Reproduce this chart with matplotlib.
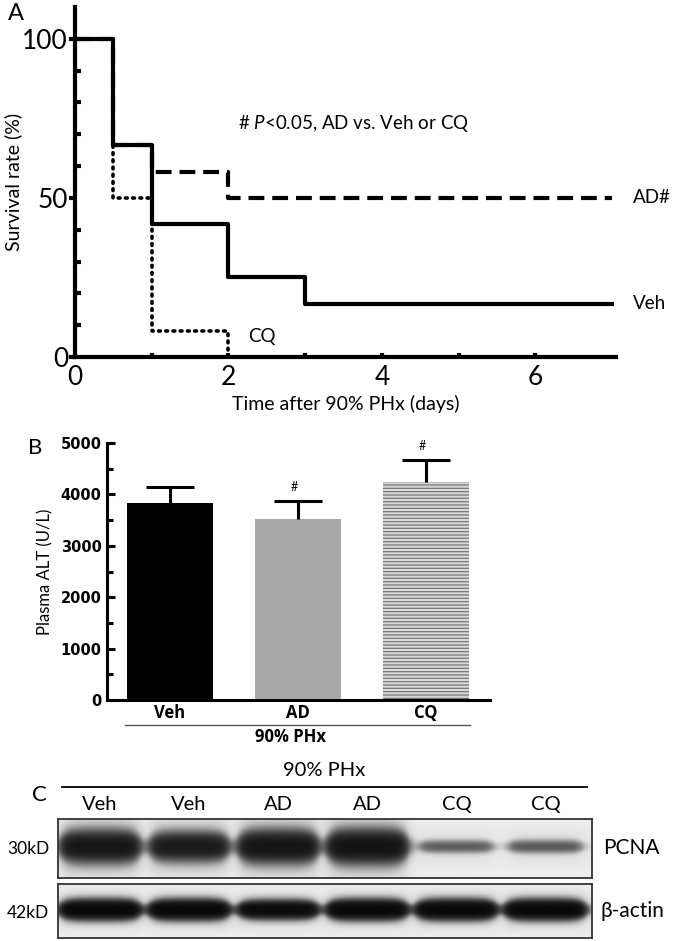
import numpy as np
import matplotlib
matplotlib.use('Agg')
import matplotlib.pyplot as plt
from matplotlib.ticker import MultipleLocator, FixedLocator

plt.rcParams['font.family'] = ['Lato', 'DejaVu Sans']
plt.rcParams['mathtext.fontset'] = 'custom'
plt.rcParams['mathtext.rm'] = 'Lato'
plt.rcParams['mathtext.it'] = 'Lato:italic'
plt.rcParams['hatch.linewidth'] = 0.9

# ---- Panel A: survival after 90% PHx ----
veh_days = [0, 0.5, 1, 2, 3, 7]
veh_surv = [100, 66.7, 41.7, 25.0, 16.7, 16.7]
ad_days = [0, 0.5, 1, 2, 7]
ad_surv = [100, 66.7, 58.3, 50.0, 50.0]
cq_days = [0, 0.5, 1, 2]
cq_surv = [100, 50.0, 8.3, 0.0]

# ---- Panel B: plasma ALT ----
groups = ['Veh', 'AD', 'CQ']
alt_mean = [3840, 3530, 4250]
alt_sem = [310, 350, 420]
alt_sig = ['', '#', '#']

# ---- Panel C: western blot ----
lanes = ['Veh', 'Veh', 'AD', 'AD', 'CQ', 'CQ']
pcna_level = [0.95, 0.88, 0.97, 1.0, 0.38, 0.40]
actin_level = [1.0, 1.0, 0.93, 1.0, 1.0, 1.0]

W, H = 675, 941
fig = plt.figure(figsize=(W / 100, H / 100), dpi=100)


def rect(x0, y0, x1, y1):
    # pixel box (top-left origin) -> figure fraction rect
    return [x0 / W, 1 - y1 / H, (x1 - x0) / W, (y1 - y0) / H]


# ================= A =================
ax = fig.add_axes(rect(75, 7, 616, 357))
lw = 3.0
ax.step(cq_days, cq_surv, where='post', color='black', lw=2.6,
        dashes=(0.5, 1.5), dash_capstyle='round')
ax.step(ad_days, ad_surv, where='post', color='black', lw=lw, dashes=(3.8, 1.9))
ax.step(veh_days, veh_surv, where='post', color='black', lw=lw)
ax.set_xlim(0, 7.05)
ax.set_ylim(0, 110)
for s in ['top', 'right']:
    ax.spines[s].set_visible(False)
for s in ['left', 'bottom']:
    ax.spines[s].set_linewidth(3.0)
ax.yaxis.set_major_locator(FixedLocator([0, 50, 100]))
ax.yaxis.set_minor_locator(FixedLocator([10, 20, 30, 40, 60, 70, 80, 90]))
ax.xaxis.set_major_locator(FixedLocator([0, 2, 4, 6]))
ax.xaxis.set_minor_locator(FixedLocator([1, 3, 5]))
ax.tick_params(axis='y', which='major', direction='out', length=4, width=3,
               labelsize=19, pad=1)
ax.tick_params(axis='y', which='minor', direction='in', length=4, width=3)
ax.tick_params(axis='x', which='both', direction='in', length=3, width=3,
               labelsize=19, pad=6)
ax.set_ylabel('Survival rate (%)', fontsize=14, labelpad=0)
ax.set_xlabel('Time after 90% PHx (days)', fontsize=14, labelpad=3)
ax.text(3.63, 73.5, '# $P$<0.05, AD vs. Veh or CQ', fontsize=13.5,
        ha='center', va='center')
ax.text(7.27, ad_surv[-1], 'AD#', fontsize=13.5, va='center', clip_on=False)
ax.text(7.27, veh_surv[-1], 'Veh', fontsize=13.5, va='center', clip_on=False)
ax.text(2.25, 6.5, 'CQ', fontsize=13.5, va='center')
fig.text(8 / W, 1 - 13 / H, 'A', fontsize=17, va='center')

# ================= B =================
bx = fig.add_axes(rect(107, 443, 490, 700))
xb = np.arange(len(groups))
bx.bar(xb[0], alt_mean[0], width=0.67, color='black')
bx.bar(xb[1], alt_mean[1], width=0.67, color='#a9a9a9')
bx.bar(xb[2], alt_mean[2], width=0.67, color='#d9d9d9', edgecolor='#777777',
       linewidth=0, hatch='-----')
err = bx.errorbar(xb, alt_mean, yerr=[[0] * 3, alt_sem], fmt='none',
                  ecolor='black', elinewidth=2.2, capsize=17, capthick=2.2)
err[1][0].set_visible(False)
for xi, m, e, s in zip(xb, alt_mean, alt_sem, alt_sig):
    if s:
        bx.text(xi - 0.03, m + e + 150, s, fontsize=9, ha='center', va='bottom')
bx.set_xlim(-0.49, 2.5)
bx.set_ylim(0, 5000)
for s in ['top', 'right']:
    bx.spines[s].set_visible(False)
for s in ['left', 'bottom']:
    bx.spines[s].set_linewidth(2.2)
bx.yaxis.set_major_locator(MultipleLocator(1000))
bx.yaxis.set_minor_locator(MultipleLocator(500))
bx.tick_params(axis='y', which='major', direction='in', length=6, width=2.2,
               labelsize=10.5, pad=4)
bx.tick_params(axis='y', which='minor', direction='in', length=4, width=2.2)
for t in bx.get_yticklabels():
    t.set_fontfamily('DejaVu Sans')
    t.set_fontweight('bold')
bx.set_xticks(xb)
bx.set_xticklabels(groups, fontsize=12, fontweight='bold', family='Open Sans')
bx.tick_params(axis='x', length=0, pad=3)
bx.set_ylabel('Plasma ALT (U/L)', fontsize=12, labelpad=5)
trans = bx.get_xaxis_transform()
bx.plot([-0.35, 2.34], [-0.098, -0.098], color='#555555', lw=1.0,
        transform=trans, clip_on=False)
bx.text(0.94, -0.145, '90% PHx', fontsize=12, fontweight='bold',
        family='Open Sans', ha='center', va='center', transform=trans)
fig.text(28 / W, 1 - 448 / H, 'B', fontsize=16, va='center')


# ================= C =================
def blot(levels, core, halo, gain, nx=700, ny=100):
    xs = np.linspace(-0.47, 5.52, nx)
    ys = np.linspace(-1, 1, ny)
    X, Y = np.meshgrid(xs, ys)
    dens = np.zeros_like(X)
    for i, lv in enumerate(levels):
        hw = 0.38 + 0.06 * lv
        u = np.clip(np.abs(X - i) / hw, 0, 1.6)
        hx = 1 / (1 + np.exp((u - 1) / 0.09))
        shape = np.sqrt(np.clip(1 - 0.55 * u ** 4, 0.2, 1))
        th = core * (0.05 + 0.95 * lv ** 1.5) * shape + 0.08
        vy = np.exp(-(np.abs(Y + 0.05) / th) ** 2.4)
        vh = np.exp(-((Y + 0.05) / (halo * (0.3 + 0.7 * lv))) ** 2)
        dens += lv * hx * (vy + 0.18 * lv * vh)
    img = 0.94 - 0.9 * (1 - np.exp(-gain * dens))
    # slight darker tint toward the middle of the membrane
    img -= 0.03 * np.exp(-(Y / 0.8) ** 2)
    return img, (xs[0], xs[-1], -1, 1)


def blot_axes(box, levels, core, halo, gain):
    cx = fig.add_axes(rect(*box))
    img, ext = blot(levels, core, halo, gain)
    cx.imshow(img, cmap='gray', vmin=0, vmax=1, extent=ext, aspect='auto',
              interpolation='bilinear')
    cx.set_xlim(-0.47, 5.52)
    cx.set_ylim(-1, 1)
    cx.set_xticks([])
    cx.set_yticks([])
    for s in cx.spines.values():
        s.set_linewidth(1.3)
        s.set_color('#333333')
    return cx


cp = blot_axes((58, 819, 592, 878), pcna_level, 0.45, 0.85, 2.2)
ca = blot_axes((58, 884, 592, 938), actin_level, 0.26, 0.45, 3.0)

for i, lab in enumerate(lanes):
    cp.text(i, 1.24, lab, fontsize=14.5, ha='center', va='center',
            transform=cp.get_xaxis_transform())
fig.lines.append(plt.Line2D([62 / W, 587 / W], [1 - 787 / H, 1 - 787 / H],
                            color='black', lw=1.3, transform=fig.transFigure))
fig.text(324 / W, 1 - 771 / H, '90% PHx', fontsize=14.5, ha='center', va='center')
fig.text(39 / W, 1 - 795 / H, 'C', fontsize=16, ha='center', va='center')
fig.text(28 / W, 1 - 849 / H, '30kD', fontsize=12.5, ha='center', va='center')
fig.text(28 / W, 1 - 913 / H, '42kD', fontsize=12.5, ha='center', va='center')
fig.text(603 / W, 1 - 848 / H, 'PCNA', fontsize=15, ha='left', va='center')
fig.text(601 / W, 1 - 911 / H, 'β-actin', fontsize=15, ha='left', va='center')

fig.savefig('out.png', dpi=100, facecolor='white')
plt.close(fig)
